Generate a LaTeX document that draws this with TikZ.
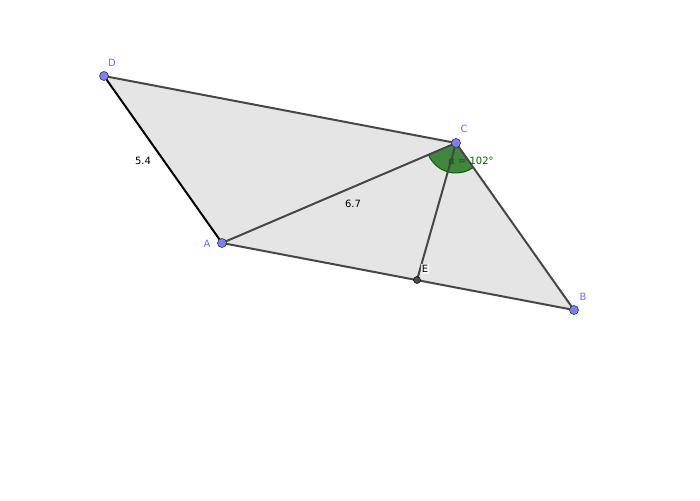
\documentclass[tikz,border=0pt]{standalone}
\usepackage{fontspec}
\setmainfont{DejaVu Sans}
\begin{document}
\begin{tikzpicture}[x=1pt,y=1pt,
  seg/.style={draw=black!72, line width=2pt},
  pt/.style={circle, fill={rgb,255:red,125;green,125;blue,255}, draw=black!80, line width=0.6pt, inner sep=0pt, minimum size=9pt},
  ptE/.style={circle, fill=black!70, draw=black, line width=0.5pt, inner sep=0pt, minimum size=7pt},
  plabel/.style={text={rgb,255:red,110;green,110;blue,255}, font=\fontsize{10}{12}\selectfont, inner sep=1pt},
  vlabel/.style={text=black, font=\fontsize{10}{12}\selectfont, fill=white, fill opacity=0.8, text opacity=1, inner sep=1pt}]
\useasboundingbox (0,0) rectangle (700,500);
\coordinate (D) at (104,424);
\coordinate (C) at (456,357);
\coordinate (A) at (222,257);
\coordinate (B) at (574,190);
\coordinate (E) at (417,220);
\fill[black!10] (D) -- (C) -- (B) -- (A) -- cycle;
\fill[fill={rgb,255:red,0;green,100;blue,0}, fill opacity=0.72, draw={rgb,255:red,0;green,100;blue,0}, line width=1pt] (C) -- ++(203.1:30) arc[start angle=203.1, end angle=305.2, radius=30] -- cycle;
\draw[seg] (D) -- (C);
\draw[seg] (C) -- (B);
\draw[seg] (A) -- (B);
\draw[seg] (A) -- (C);
\draw[seg] (C) -- (E);
\draw[draw=black, line width=2pt] (D) -- (A);
\node[pt] (nD) at (D) {};
\node[pt] (nC) at (C) {};
\node[pt] (nA) at (A) {};
\node[pt] (nB) at (B) {};
\node[ptE] (nE) at (E) {};
\node[plabel] at (112,437) {D};
\node[plabel] at (464,371) {C};
\node[plabel] at (207,256) {A};
\node[plabel] at (583,203) {B};
\node[vlabel] at (425,231) {E};
\node[vlabel, fill opacity=0] at (143,339) {5.4};
\node[vlabel, fill opacity=0] at (353,296) {6.7};
\node[text={rgb,255:red,0;green,100;blue,0}, font=\fontsize{10}{12}\selectfont, inner sep=1pt] at (471,339) {α = 102°};
\end{tikzpicture}
\end{document}
